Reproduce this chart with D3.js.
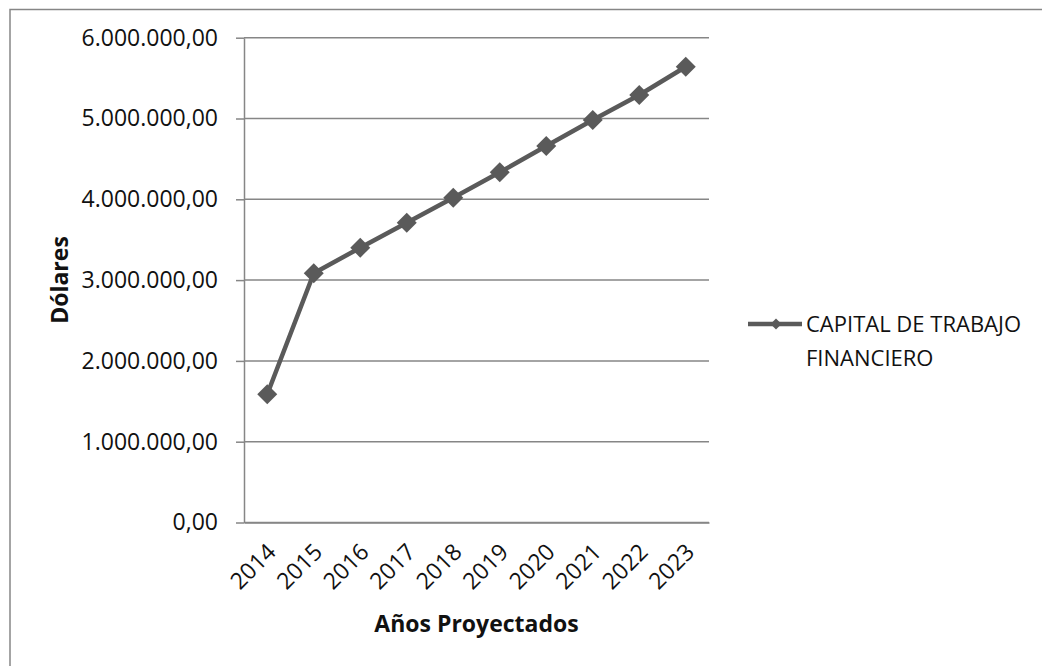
<!DOCTYPE html>
<html>
<head>
<meta charset="utf-8">
<script src="https://cdn.jsdelivr.net/npm/d3@7"></script>
<style>
  html, body { margin: 0; padding: 0; background: #ffffff; }
  svg { display: block; font-family: "Open Sans", "Noto Sans", sans-serif; }
</style>
</head>
<body>
<svg id="chart" width="1042" height="666"></svg>
<script>
// Proyección del capital de trabajo financiero (USD)
const years = ["2014", "2015", "2016", "2017", "2018", "2019", "2020", "2021", "2022", "2023"];
const capitalTrabajo = [1587000, 3084000, 3401000, 3710000, 4020000, 4334000, 4660000, 4981000, 5291000, 5641000];
const yTicks = [0, 1000000, 2000000, 3000000, 4000000, 5000000, 6000000];
const seriesName = ["CAPITAL DE TRABAJO", "FINANCIERO"];
const yTitle = "Dólares";
const xTitle = "Años Proyectados";

const svg = d3.select("#chart");
const gridColor = "#868686";
const lineColor = "#5a5a5a";

const plot = { left: 244, right: 709, top: 37.7, bottom: 522.5 };

// Marco exterior del gráfico
svg.append("rect")
  .attr("x", 10).attr("y", 9.5)
  .attr("width", 1060).attr("height", 700)
  .attr("fill", "none").attr("stroke", gridColor).attr("stroke-width", 1.5);

const x = d3.scaleBand().domain(years).range([plot.left, plot.right]);
const y = d3.scaleLinear().domain([0, 6000000]).range([plot.bottom, plot.top]);

// Formato es-ES: 6.000.000,00
const fmt = v => {
  const s = d3.format(",.2f")(v);
  return s.replace(/,/g, "#").replace(/\./g, ",").replace(/#/g, ".");
};

// Líneas de división horizontales
svg.append("g").selectAll("line").data(yTicks).join("line")
  .attr("x1", plot.left).attr("x2", plot.right)
  .attr("y1", d => y(d)).attr("y2", d => y(d))
  .attr("stroke", gridColor).attr("stroke-width", 1.5);

// Eje vertical
const yAxis = svg.append("g")
  .attr("transform", `translate(${plot.left},0)`)
  .call(d3.axisLeft(y).tickValues(yTicks).tickFormat(fmt).tickSizeInner(8).tickSizeOuter(0).tickPadding(18));
yAxis.select(".domain").attr("stroke", gridColor).attr("stroke-width", 1.5);
yAxis.selectAll(".tick line").attr("stroke", gridColor).attr("stroke-width", 1.5);
yAxis.selectAll(".tick text")
  .attr("font-family", "'Open Sans', sans-serif")
  .attr("font-size", 23).attr("fill", "#111");

// Eje horizontal
const xAxis = svg.append("g")
  .attr("transform", `translate(0,${plot.bottom})`)
  .call(d3.axisBottom(x).tickSize(0).tickPadding(0));
xAxis.select(".domain").attr("stroke", gridColor).attr("stroke-width", 1.5);
xAxis.selectAll(".tick text")
  .attr("font-family", "'Open Sans', sans-serif")
  .attr("font-size", 23).attr("fill", "#111")
  .attr("text-anchor", "end")
  .attr("dy", 0)
  .attr("transform", "translate(10,31) rotate(-45)");

// Títulos de los ejes
svg.append("text")
  .attr("transform", "translate(68,280) rotate(-90)")
  .attr("text-anchor", "middle")
  .attr("font-size", 23).attr("font-weight", "bold").attr("fill", "#111")
  .text(yTitle);

svg.append("text")
  .attr("x", (plot.left + plot.right) / 2).attr("y", 632)
  .attr("text-anchor", "middle")
  .attr("font-size", 23).attr("font-weight", "bold").attr("fill", "#111")
  .text(xTitle);

// Serie
const data = years.map((yr, i) => ({ yr, v: capitalTrabajo[i] }));
const cx = d => x(d.yr) + x.bandwidth() / 2;

svg.append("path")
  .datum(data)
  .attr("fill", "none").attr("stroke", lineColor).attr("stroke-width", 4.5)
  .attr("stroke-linejoin", "round")
  .attr("d", d3.line().x(cx).y(d => y(d.v)));

svg.append("g").selectAll("path").data(data).join("path")
  .attr("transform", d => `translate(${cx(d)},${y(d.v)}) rotate(45)`)
  .attr("d", d3.symbol().type(d3.symbolSquare).size(200))
  .attr("fill", lineColor);

// Leyenda
const lg = svg.append("g");
lg.append("line")
  .attr("x1", 748).attr("x2", 802).attr("y1", 324).attr("y2", 324)
  .attr("stroke", lineColor).attr("stroke-width", 4.5);
lg.append("path")
  .attr("transform", "translate(776,324) rotate(45)")
  .attr("d", d3.symbol().type(d3.symbolSquare).size(60))
  .attr("fill", lineColor);
lg.append("text")
  .attr("x", 806).attr("y", 332)
  .attr("font-size", 22).attr("fill", "#111")
  .selectAll("tspan").data(seriesName).join("tspan")
  .attr("x", 806).attr("dy", (d, i) => i === 0 ? 0 : 34)
  .text(d => d);
</script>
</body>
</html>
